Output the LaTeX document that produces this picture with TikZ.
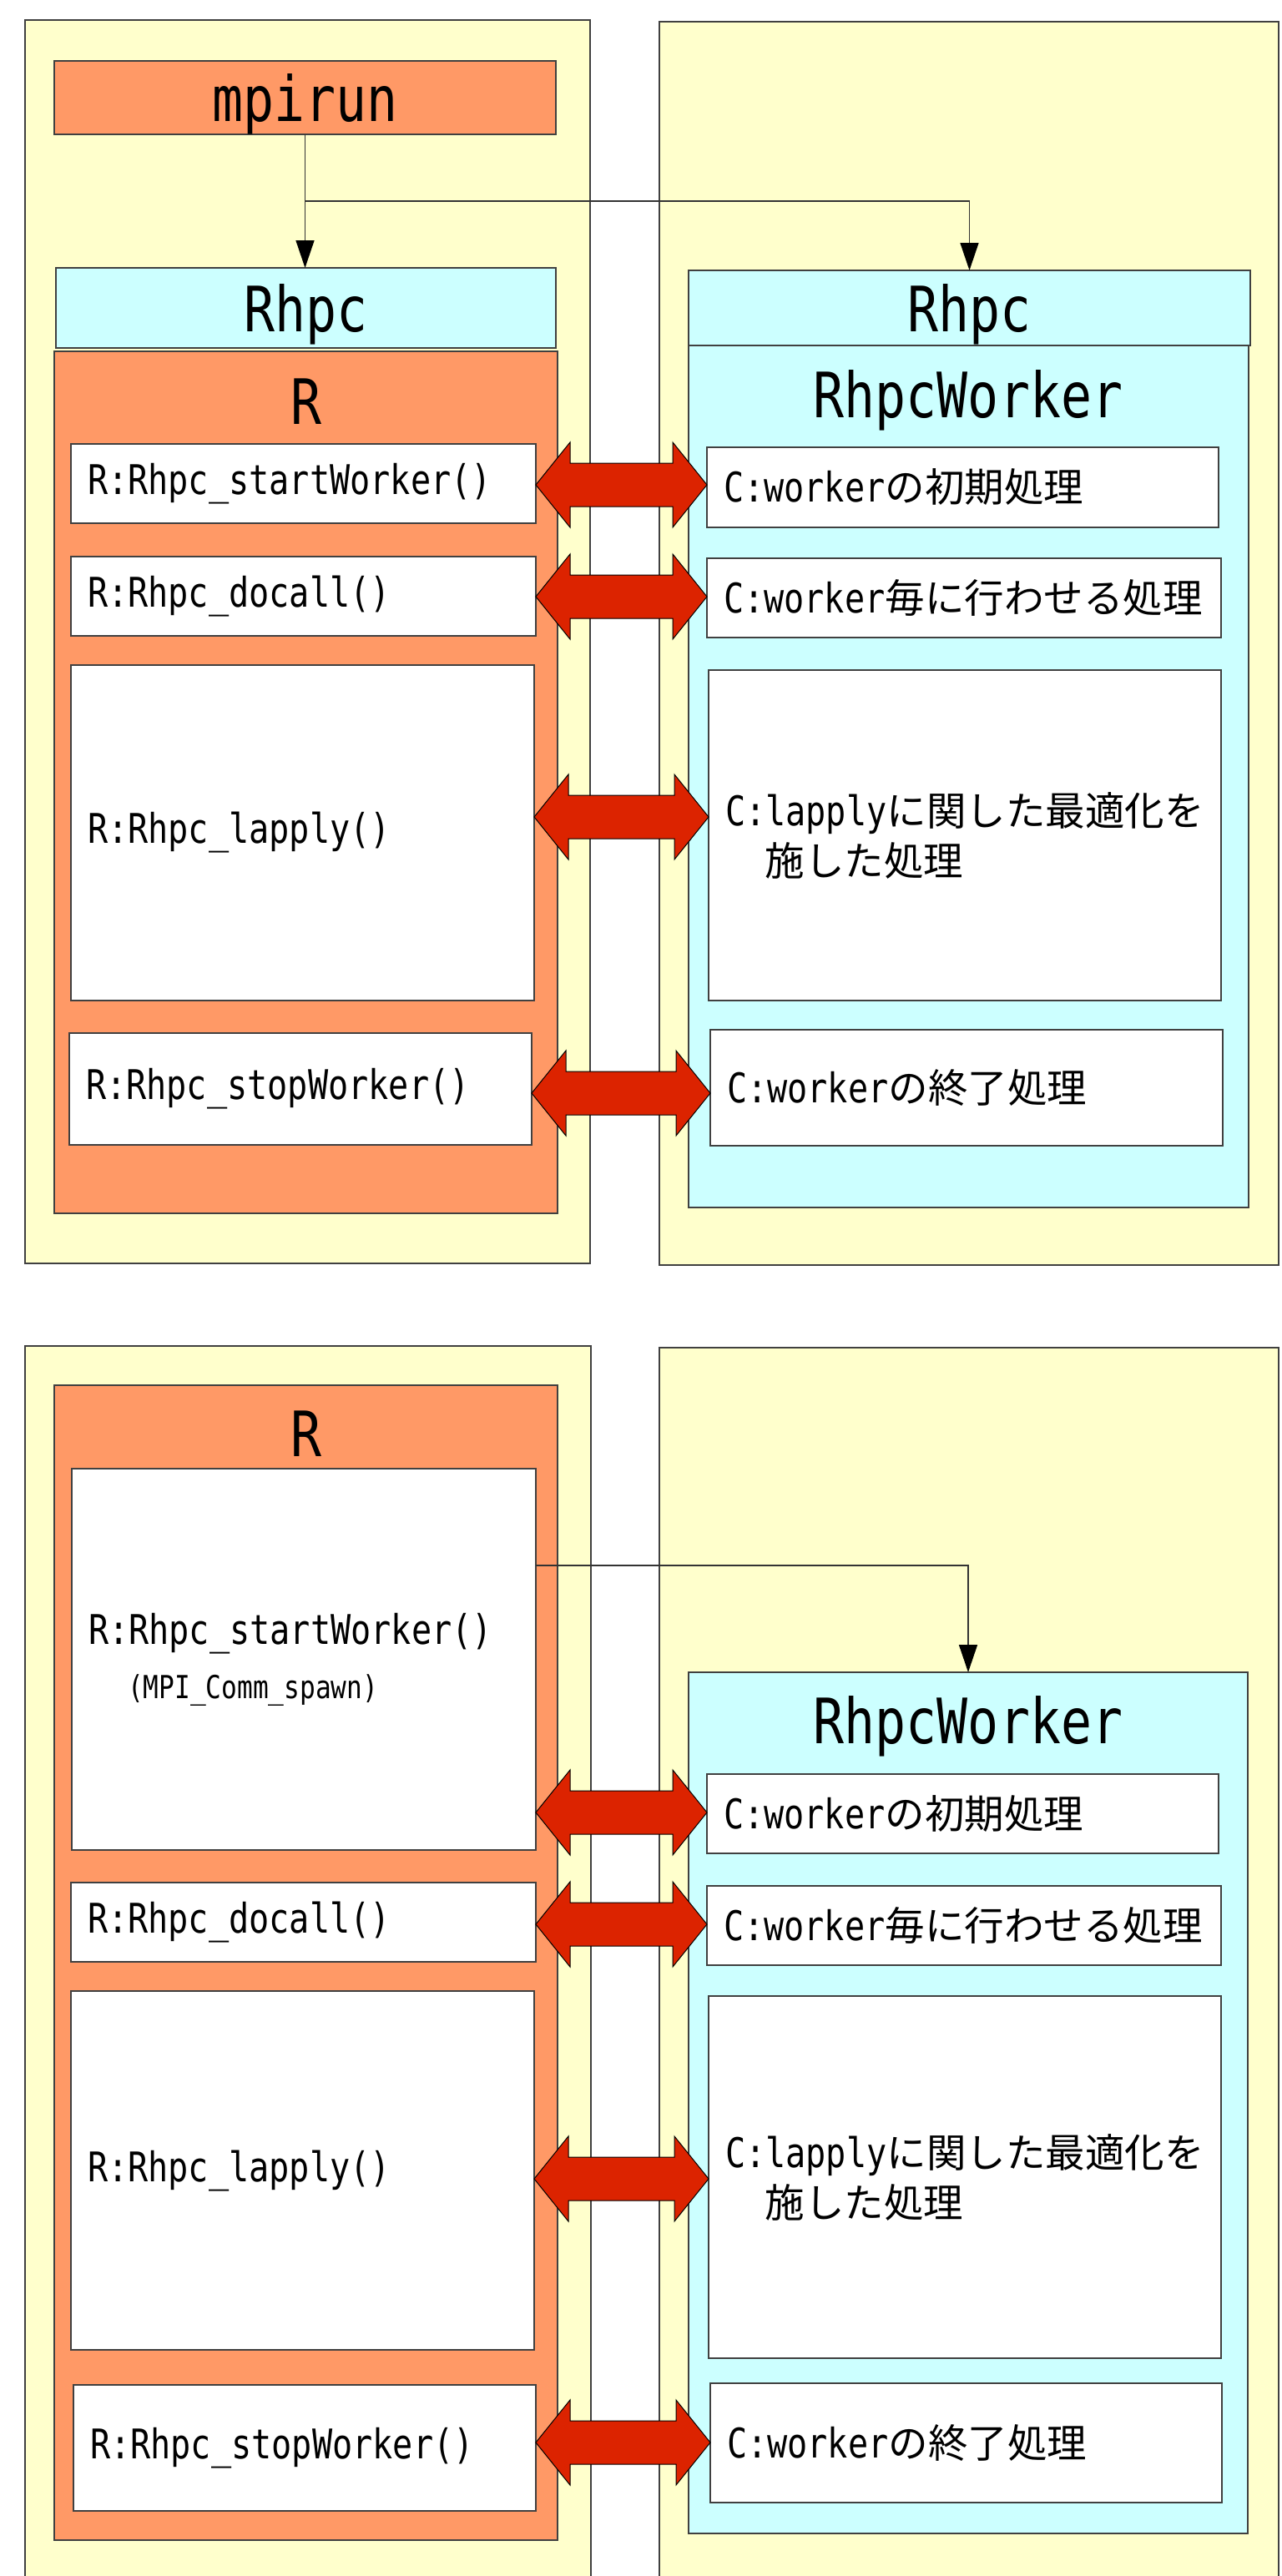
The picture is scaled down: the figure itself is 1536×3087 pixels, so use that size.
\documentclass[tikz,border=0pt]{standalone}
\usepackage{fontspec}
\setmainfont[FakeStretch=0.82]{DejaVu Sans Mono}
\newfontfamily\jp[Scale=0.97]{Noto Sans CJK JP}
\usetikzlibrary{arrows.meta,calc}

\definecolor{panelyellow}{HTML}{FFFFCC}
\definecolor{rorange}{HTML}{FF9966}
\definecolor{rhpccyan}{HTML}{CCFFFF}
\definecolor{arrowred}{HTML}{DC2300}

% fat two-way arrow from the east side of #1 to the west side of #2, at height #3
\newcommand{\fatarrow}[3]{%
  \filldraw[fat] (#1.east |- 0,#3) -- ++(41,-51) -- ++(0,25)
    -- ($(#2.west |- 0,#3)+(-41,-26)$) -- ++(0,-25) -- (#2.west |- 0,#3)
    -- ++(-41,51) -- ++(0,-25) -- ($(#1.east |- 0,#3)+(41,26)$) -- ++(0,25) -- cycle;}

\begin{document}
\begin{tikzpicture}[x=1pt,y=-1pt,
  box/.style={draw=black!75, line width=1.5pt, inner sep=0pt, outer sep=0pt, anchor=north west},
  panel/.style={box, fill=panelyellow},
  rbox/.style={box, fill=rorange},
  cbox/.style={box, fill=rhpccyan},
  fnbox/.style 2 args={box, fill=white, text width=#1pt, minimum height=#2pt,
    inner xsep=20pt, align=left, font=\fontsize{49}{60}\selectfont},
  big/.style={font=\fontsize{75}{80}\selectfont, text height=56pt, text depth=0pt},
  conn/.style={draw=black!80, line width=1.5pt, -{Triangle[width=22pt,length=33pt,color=black]}},
  fat/.style={fill=arrowred, draw=black, line width=1pt, line join=miter}]

\useasboundingbox (0,0) rectangle (1536,3087);
\clip (0,0) rectangle (1536,3087);

% ---------- mpirun ----------
  \node[panel, minimum width=677, minimum height=1490] (masterT) at (30,24) {};
  \node[panel, minimum width=742, minimum height=1490] (slaveT) at (790,26) {};

  \node[rbox, big, minimum width=601, minimum height=88] (mpirun) at (65,73) {mpirun};
  \node[cbox, big, minimum width=599, minimum height=96] (rhpcL) at (67,321) {Rhpc};
  \node[cbox, big, minimum width=673, minimum height=90] (rhpcR) at (825,324) {Rhpc};

  \node[rbox, minimum width=603, minimum height=1033] (rT) at (65,421) {};
  \node[big, anchor=base] (rlabT) at (367,508) {R};
  \node[cbox, minimum width=671, minimum height=1033] (workerT) at (825,414) {};
  \node[big, anchor=base] (wlabT) at (1160,500) {RhpcWorker};

  \node[fnbox={517}{95}] (startT) at (85,532) {R:Rhpc\_startWorker()};
  \node[fnbox={517}{95}] (docallT) at (85,667) {R:Rhpc\_docall()};
  \node[fnbox={515}{402}] (lapplyT) at (85,797) {R:Rhpc\_lapply()};
  \node[fnbox={514}{134}] (stopT) at (83,1238) {R:Rhpc\_stopWorker()};

  \node[fnbox={573}{96}] (initT) at (847,536) {C:worker{\jp の初期処理}};
  \node[fnbox={576}{95}] (everyT) at (847,669) {C:worker{\jp 毎に行わせる処理}};
  \node[fnbox={574}{396}] (optT) at (849,803) {C:lapply{\jp に関した最適化を}\\{\jp 　施した処理}};
  \node[fnbox={574}{139}] (finT) at (851,1234) {C:worker{\jp の終了処理}};

% Connectors
  \draw[conn] (mpirun.south) -- (mpirun.south |- rhpcL.north);
  \coordinate (split) at ($(mpirun.south)!0.5!(mpirun.south |- rhpcL.north)$);
  \draw[conn] (split) -| (rhpcR.north);

  \foreach \l/\r/\y in {startT/initT/581, docallT/everyT/715, lapplyT/optT/979, stopT/finT/1310}
    \fatarrow{\l}{\r}{\y};

% ---------- MPI_Comm_spawn ----------
  \node[panel, minimum width=678, minimum height=1500] (masterB) at (30,1613) {};
  \node[panel, minimum width=742, minimum height=1500] (slaveB) at (790,1615) {};

  \node[rbox, minimum width=603, minimum height=1384] (rB) at (65,1660) {};
  \node[big, anchor=base] (rlabB) at (367,1745) {R};
  \node[cbox, minimum width=670, minimum height=1032] (workerB) at (825,2004) {};
  \node[big, anchor=base] (wlabB) at (1160,2089) {RhpcWorker};

  \node[fnbox={516}{457}] (startB) at (86,1760)
    {R:Rhpc\_startWorker()\\[5pt]\hspace*{47pt}{\fontsize{38}{44}\selectfont(MPI\_Comm\_spawn)}};
  \node[fnbox={517}{95}] (docallB) at (85,2256) {R:Rhpc\_docall()};
  \node[fnbox={515}{430}] (lapplyB) at (85,2386) {R:Rhpc\_lapply()};
  \node[fnbox={514}{151}] (stopB) at (88,2858) {R:Rhpc\_stopWorker()};

  \node[fnbox={573}{95}] (initB) at (847,2126) {C:worker{\jp の初期処理}};
  \node[fnbox={576}{95}] (everyB) at (847,2260) {C:worker{\jp 毎に行わせる処理}};
  \node[fnbox={574}{434}] (optB) at (849,2392) {C:lapply{\jp に関した最適化を}\\{\jp 　施した処理}};
  \node[fnbox={573}{143}] (finB) at (851,2856) {C:worker{\jp の終了処理}};

% Connectors
  \draw[conn] ($(startB.north east)+(0,116)$) -| (workerB.north);

  \foreach \l/\r/\y in {startB/initB/2172, docallB/everyB/2306, lapplyB/optB/2611, stopB/finB/2927}
    \fatarrow{\l}{\r}{\y};
\end{tikzpicture}
\end{document}
